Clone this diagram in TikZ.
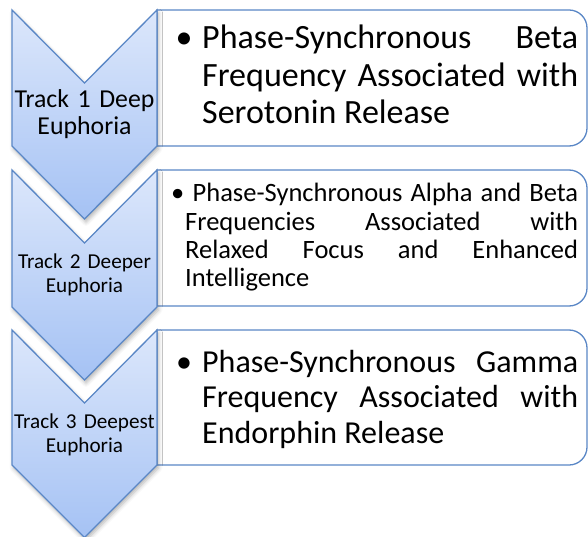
\documentclass[tikz,border=0pt]{standalone}
\usepackage{fontspec}
\setmainfont{Carlito}
\usetikzlibrary{positioning, shadows.blur}

\definecolor{chevtop}{HTML}{DCE7FB}
\definecolor{chevbot}{HTML}{A5C2F4}
\definecolor{chevline}{HTML}{5A87C6}

\tikzset{
  chevron/.style={draw=chevline, line width=1.3pt, top color=chevtop, bottom color=chevbot,
    blur shadow={shadow xshift=1.5pt, shadow yshift=-3pt, shadow opacity=30, shadow blur radius=4pt}},
  infobox/.style={draw=chevline, line width=1.3pt, fill=white},
  tracklabel/.style={align=center, text width=145pt, inner sep=0pt, anchor=base},
  infotext/.style={align=justify, inner sep=0pt, anchor=base west},
}

\begin{document}
\begin{tikzpicture}[x=1pt, y=-1pt]

        \useasboundingbox (0,0) rectangle (588,537);

        % text boxes, square on the left
        \draw[infobox] (372,10) [rounded corners=18pt] -- (587,10) -- (587,146) -- (372,146)
            [sharp corners] -- (157,146) -- (157,10) -- cycle;
        \draw[infobox] (372,170) [rounded corners=18pt] -- (587,170) -- (587,306) -- (372,306)
            [sharp corners] -- (157,306) -- (157,170) -- cycle;
        \draw[infobox] (372,330) [rounded corners=18pt] -- (587,330) -- (587,465) -- (372,465)
            [sharp corners] -- (157,465) -- (157,330) -- cycle;

        % chevrons
        \draw[chevron] (12,10) -- (84.5,83) -- (157,10) -- (157,146) -- (84.5,219) -- (12,146) -- cycle;
        \draw[chevron] (12,170) -- (84.5,243) -- (157,170) -- (157,307) -- (84.5,380) -- (12,307) -- cycle;
        \draw[chevron] (12,330) -- (84.5,403) -- (157,330) -- (157,465) -- (84.5,537.5) -- (12,465) -- cycle;

        \node[tracklabel, font=\fontsize{25.8}{27}\selectfont] (trackone) at (84.5,108) {Track 1 Deep\\Euphoria};
        \node[tracklabel, font=\fontsize{21.2}{24}\selectfont] (tracktwo) at (84.5,268) {Track 2 Deeper\\Euphoria};
        \node[tracklabel, font=\fontsize{21.2}{24}\selectfont] (trackthree) at (84.5,428) {Track 3 Deepest\\Euphoria};

        \node[infotext, text width=376pt, font=\fontsize{34}{37.5}\selectfont] (infoone) at (202,49)
            {\noindent\hspace*{-30pt}\makebox[24pt]{•}\hspace*{6pt}\mbox{Phase-Synchronous}~Beta\linebreak
             Frequency~Associated~with\linebreak Serotonin~Release};
        \node[infotext, text width=393pt, font=\fontsize{26.5}{28.3}\selectfont] (infotwo) at (185,202)
            {\noindent\hspace*{-15.5pt}\makebox[16pt]{•}\hspace*{7pt}\mbox{Phase-Synchronous}~Alpha~and~Beta\linebreak
             Frequencies~Associated~with\linebreak Relaxed~Focus~and~Enhanced\linebreak Intelligence};
        \node[infotext, text width=376pt, font=\fontsize{32}{35.5}\selectfont] (infothree) at (202,372)
            {\noindent\hspace*{-30pt}\makebox[24pt]{•}\hspace*{6pt}\mbox{Phase-Synchronous}~Gamma\linebreak
             Frequency~Associated~with\linebreak Endorphin~Release};

    \end{tikzpicture}
\end{document}
